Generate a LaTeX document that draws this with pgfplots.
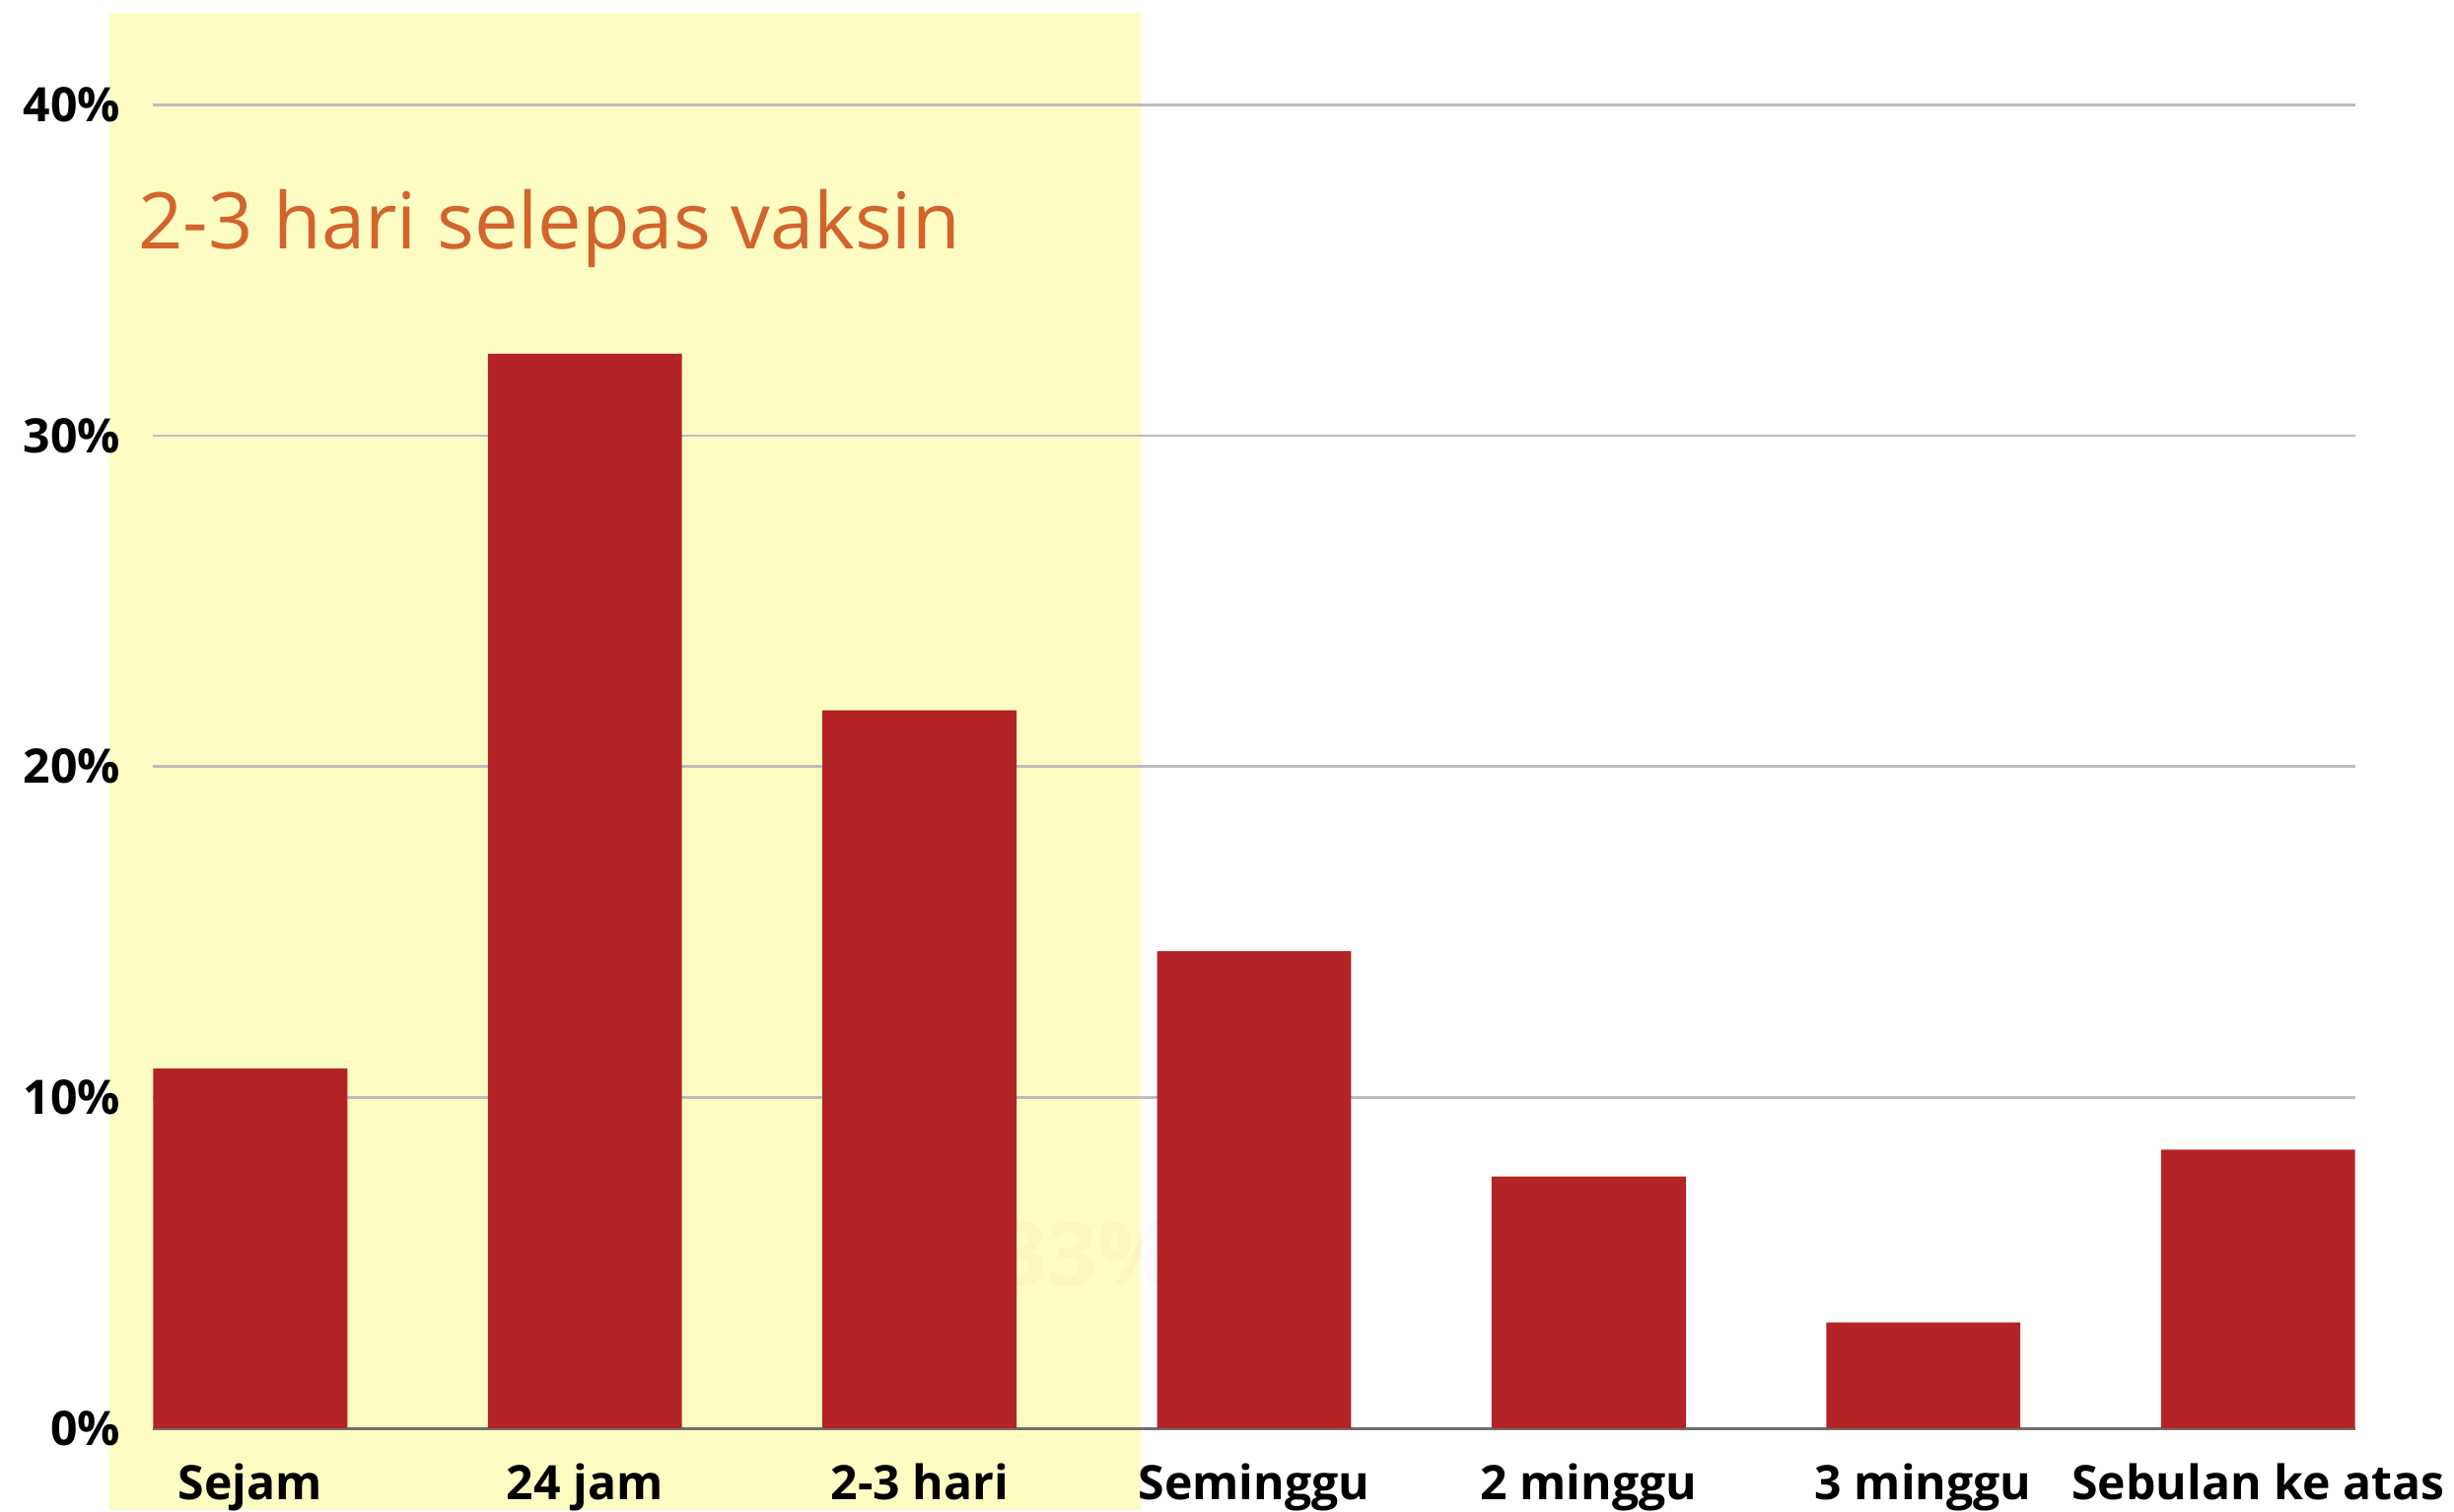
\documentclass[border=0pt]{standalone}
\usepackage{fontspec}
\setmainfont{Open Sans}
\usepackage{pgfplots}
\pgfplotsset{compat=1.18}
\definecolor{barred}{HTML}{B42325}
\definecolor{hl}{HTML}{FDFCC3}
\definecolor{annot}{HTML}{D2642C}
\definecolor{gridc}{HTML}{BDBDBD}
\definecolor{axc}{HTML}{707070}
\begin{document}
\begin{tikzpicture}
\begin{axis}[
  set layers,
  scale only axis,
  width=422.1pt, height=271.5pt,
  xmin=-0.29, xmax=6.29,
  ymin=0, ymax=42.79,
  clip=false,
  axis lines*=left,
  y axis line style={draw=none},
  x axis line style={draw=axc, line width=0.6pt, -},
  major tick length=0pt,
  ytick={0,10,20,30,40},
  yticklabels={0\%,10\%,20\%,30\%,40\%},
  xtick={0,...,6},
  xticklabels={Sejam,24 jam,2-3 hari,Seminggu,2 minggu,3 minggu,Sebulan ke atas},
  ymajorgrids,
  grid style={gridc, line width=0.5pt},
  tick label style={font=\bfseries\fontsize{9.1}{10}\selectfont, text=black},
  yticklabel style={xshift=-2.8pt},
  xticklabel style={anchor=base, inner sep=0pt, yshift=-13.7pt},
]
\begin{pgfonlayer}{axis background}
\fill[hl] (axis cs:-0.421,-2.459) rectangle (axis cs:2.661,42.79);
\node[text=annot, text opacity=0.035, font=\bfseries\fontsize{17}{17}\selectfont] at (axis cs:2.50,5.25) {33\%};
\end{pgfonlayer}
\path (axis cs:-0.748,-2.459) rectangle (axis cs:6.586,43.17);
\addplot[ybar, bar width=0.58, fill=barred, draw=none] coordinates {
  (0,10.87) (1,32.48) (2,21.70) (3,14.42) (4,7.61) (5,3.20) (6,8.42)
};
\node[anchor=base west, inner sep=0pt, text=annot, font=\fontsize{15}{16}\selectfont] at (axis cs:-0.337,35.65) {2-3 hari selepas vaksin};
\end{axis}
\end{tikzpicture}
\end{document}
